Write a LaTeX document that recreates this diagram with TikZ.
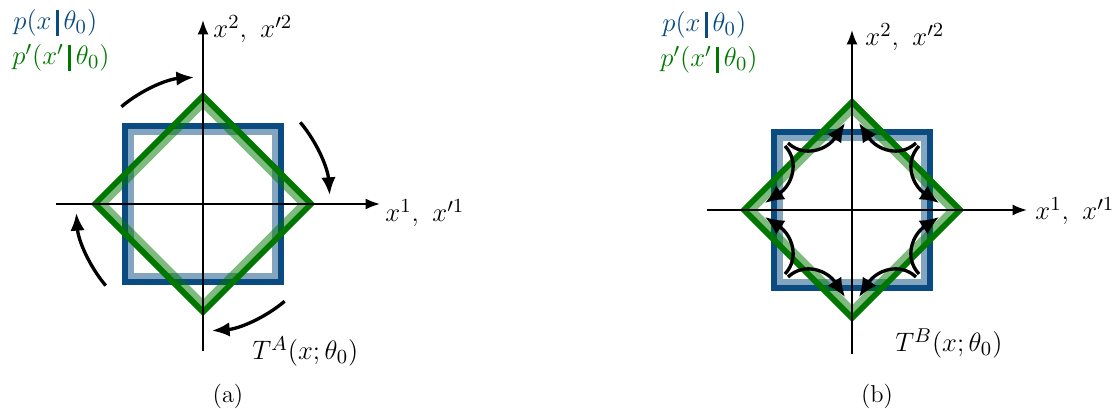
\documentclass[tikz,border=0pt]{standalone}
\usepackage{amsmath}
\usepackage{amssymb}
\usepackage{xcolor}
\usetikzlibrary{arrows.meta}

\definecolor{pblue}{RGB}{10,75,130}
\definecolor{pgreen}{RGB}{0,120,0}
\newcommand{\cbar}{\,\rule[-2.6pt]{1.4pt}{11.5pt}\,}

\begin{document}
\begin{tikzpicture}[
        x=0.45pt, y=0.45pt,
        axis/.style={-{Latex[length=6.5pt,width=5pt]}, line width=0.9pt},
        dark/.style={line width=2.7pt},
        light/.style={line width=2.7pt, draw opacity=0.5},
        turn/.style={-{Latex[length=8pt,width=6.5pt]}, line width=1.5pt},
        snap/.style={-{Latex[length=8.5pt,width=7.5pt]}, line width=1.5pt},
        axlabel/.style={inner sep=0pt, anchor=base west, font=\fontsize{12.5}{15}\selectfont},
        subcap/.style={inner sep=0pt, anchor=base, font=\fontsize{11}{13}\selectfont}
    ]
    \useasboundingbox (0,0) rectangle (1119,409);

    % Panel (a)
    \begin{scope}[shift={(203,205)}]
    % Densities
    \draw[dark, pblue] (-78,-78) rectangle (78,78);
    \draw[light, pblue] (-72,-72) rectangle (72,72);
    \draw[dark, pgreen] (108,0) -- (0,108) -- (-108,0) -- (0,-108) -- cycle;
    \draw[light, pgreen] (99.5,0) -- (0,99.5) -- (-99.5,0) -- (0,-99.5) -- cycle;

    % Axes
    \coordinate (aW) at (-147,0);
    \coordinate (aE) at (177,0);
    \coordinate (aS) at (0,-147);
    \coordinate (aN) at (0,184);
    \draw[axis] (aW) -- (aE);
    \draw[axis] (aS) -- (aN);

    % Rotation
    \foreach \a in {130,40,-50,-140}
        \draw[turn] (\a:127) arc[start angle=\a, end angle=\a-36, radius=127];

    % Labels
    \node[axlabel] (ax2) at (10,166) {$x^2,\ x'^2$};
    \node[axlabel] (ax1) at (182,-18) {$x^1,\ x'^1$};
    \node[axlabel] (aT) at (49,-156) {$T^A(x;\theta_0)$};
    \node[axlabel, text=pblue] (ap) at (-190,174) {$p(x\cbar\theta_0)$};
    \node[axlabel, text=pgreen] (apt) at (-191,139) {$p'(x'\cbar\theta_0)$};
    \node[subcap] (acap) at (25,-199) {(a)};
    \end{scope}

    % Panel (b)
    \begin{scope}[shift={(852,199)}]
    % Densities
    \draw[dark, pblue] (-78,-78) rectangle (78,78);
    \draw[light, pblue] (-72,-72) rectangle (72,72);
    \draw[dark, pgreen] (108,0) -- (0,108) -- (-108,0) -- (0,-108) -- cycle;
    \draw[light, pgreen] (99.5,0) -- (0,99.5) -- (-99.5,0) -- (0,-99.5) -- cycle;

    % Axes
    \coordinate (bW) at (-145,0);
    \coordinate (bE) at (175,0);
    \coordinate (bS) at (0,-144);
    \coordinate (bN) at (0,180);
    \draw[axis] (bW) -- (bE);
    \draw[axis] (bS) -- (bN);

    % Corners to vertices
    \foreach \r in {0,90,180,270} {
        \begin{scope}[rotate=\r]
        \draw[snap] (64,67) .. controls (48,52) and (25,60) .. (7,87);
        \draw[snap] (67,64) .. controls (52,48) and (60,25) .. (87,7);
        \end{scope}
    }

    % Labels
    \node[axlabel] (bx2) at (13,164) {$x^2,\ x'^2$};
    \node[axlabel] (bx1) at (183,-10) {$x^1,\ x'^1$};
    \node[axlabel] (bT) at (43,-142) {$T^B(x;\theta_0)$};
    \node[axlabel, text=pblue] (bp) at (-190,178) {$p(x\cbar\theta_0)$};
    \node[axlabel, text=pgreen] (bpt) at (-192,143) {$p'(x'\cbar\theta_0)$};
    \node[subcap] (bcap) at (25,-193) {(b)};
    \end{scope}

\end{tikzpicture}
\end{document}
